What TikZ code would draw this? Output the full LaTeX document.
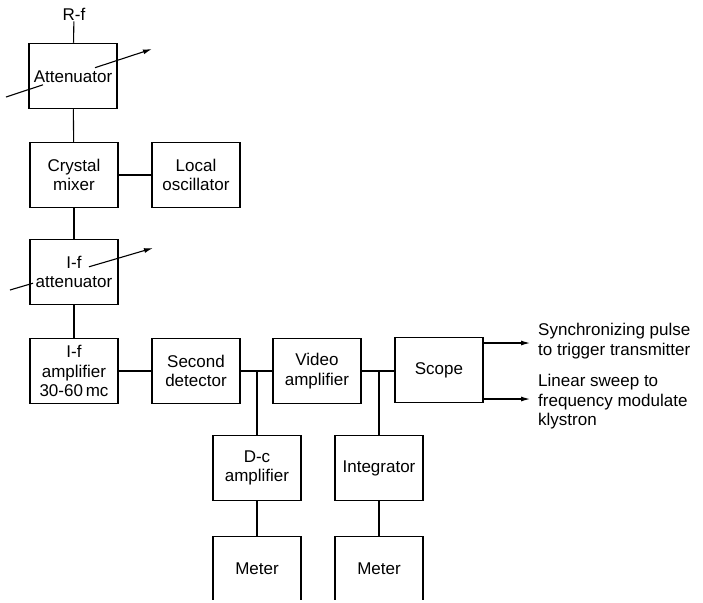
\documentclass[tikz,border=0pt]{standalone}
\usepackage{fontspec}
\setmainfont{Liberation Sans}
\usetikzlibrary{arrows.meta, positioning}
\tikzset{
  blk/.style={draw, line width=1.5pt, minimum width=88pt, minimum height=65pt, inner sep=0pt, align=center},
  wire/.style={line width=1.1pt},
  tip/.style={line width=1.1pt, -{Latex[length=9pt,width=5pt]}},
  lbl/.style={align=left, inner sep=0pt}}

\begin{document}
\begin{tikzpicture}[x=1pt,y=-1pt,font=\fontsize{17}{19.5}\selectfont]
	\useasboundingbox (0,0) rectangle (703,602);
	\clip (0,0) rectangle (703,599.5);
	\node[inner sep=1pt] (rf) at (74,14) {R-f};
	\node[blk] (att) at (73,76) {};
	\node[blk] (mix) at (74,175) {Crystal\\mixer};
	\node[blk] (lo) at (196,175) {Local\\oscillator};
	\node[blk] (ifatt) at (74,272) {};
	\node[blk] (ifamp) at (74,371) {I-f\\amplifier\\30-60\,mc};
	\node[blk] (det) at (196,371) {Second\\detector};
	\node[blk] (vid) at (317,371) {Video\\amplifier};
	\node[blk] (scope) at (439,370) {Scope};
	\node[blk] (dc) at (257,468) {D-c\\amplifier};
	\node[blk] (integ) at (379,468) {Integrator};
	\node[blk] (m1) at (257,569) {Meter};
	\node[blk] (m2) at (379,569) {Meter};
	\coordinate (a1) at (6,97);\coordinate (a2) at (43,84.8);\coordinate (a3) at (95,67.7);\coordinate (a4) at (152,49);
	\coordinate (b1) at (10,290);\coordinate (b2) at (33,283.2);\coordinate (b3) at (89,266.8);\coordinate (b4) at (153,248);
	\draw[wire] (a1) -- (a2);\draw[tip] (a3) -- (a4);
	\draw[wire] (b1) -- (b2);\draw[tip] (b3) -- (b4);
	\node (attt) at (73,77) {Attenuator};
	\node[align=center] (ifattt) at (ifatt) {I-f\\attenuator};
	\draw[wire] (rf) -- (att);\draw[wire] (att) -- (mix);\draw[wire] (mix) -- (lo);
	\draw[wire] (mix) -- (ifatt);\draw[wire] (ifatt) -- (ifamp);
	\draw[wire] (ifamp) -- (det);\draw[wire] (det) -- (vid);\draw[wire] (vid) -- (vid -| scope.west);
	\coordinate (j1) at (dc |- det);\coordinate (j2) at (integ |- vid);
	\draw[wire] (j1) -- (dc);\draw[wire] (j2) -- (integ);
	\draw[wire] (dc) -- (m1);\draw[wire] (integ) -- (m2);
	\coordinate (s1) at (530,343);\coordinate (s2) at (530,399);
	\draw[tip] (scope.east |- s1) -- (s1);\draw[tip] (scope.east |- s2) -- (s2);
	\node[lbl, anchor=west] (sync) at (538,341) {Synchronizing pulse\\to trigger transmitter};
	\node[lbl, anchor=west] (lin) at (538,402) {Linear sweep to\\frequency modulate\\klystron};
\end{tikzpicture}
\end{document}
